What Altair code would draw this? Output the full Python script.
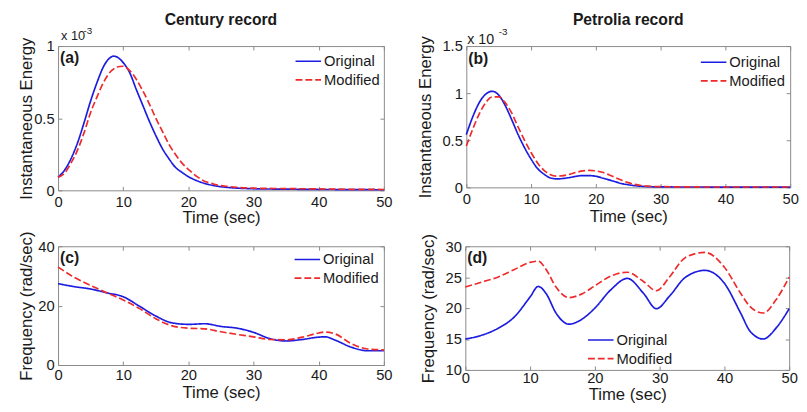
import altair as alt
import pandas as pd

SERIES = ["Original", "Modified"]
COLORS = ["#1c1ce0", "#ee2a2a"]
DASHES = [[1, 0], [7, 3]]
FONT = "Liberation Sans"
FRAME = "#8a8a8a"
TXT = "#1a1a1a"
XTICKS = [0, 10, 20, 30, 40, 50]

# (a) Century record, instantaneous energy (units of 1e-3)
a_time = [0, 1, 2, 3, 4, 5, 6, 7, 8, 8.5, 9, 10, 11, 12, 13, 14, 15, 16, 17, 18, 19, 20,
          22, 24, 26, 28, 30, 35, 40, 45, 50]
a_orig = [0.09, 0.14, 0.22, 0.33, 0.47, 0.62, 0.75, 0.86, 0.92, 0.93, 0.925, 0.885, 0.815,
          0.70, 0.59, 0.48, 0.38, 0.29, 0.22, 0.16, 0.125, 0.095, 0.055, 0.032, 0.02, 0.014,
          0.011, 0.008, 0.006, 0.005, 0.004]
a_mod = [0.09, 0.12, 0.19, 0.28, 0.40, 0.54, 0.65, 0.75, 0.82, 0.84, 0.855, 0.86, 0.83,
         0.77, 0.69, 0.60, 0.50, 0.41, 0.32, 0.25, 0.19, 0.145, 0.075, 0.042, 0.027, 0.019,
         0.015, 0.012, 0.01, 0.007, 0.006]

# (b) Petrolia record, instantaneous energy (units of 1e-3)
b_time = list(range(0, 29)) + [30, 35, 40, 45, 50]
b_orig = [0.56, 0.75, 0.90, 0.99, 1.02, 0.98, 0.87, 0.72, 0.56, 0.42, 0.30, 0.20, 0.14, 0.10,
          0.09, 0.095, 0.105, 0.118, 0.125, 0.125, 0.118, 0.10, 0.08, 0.06, 0.04, 0.028,
          0.018, 0.012, 0.008, 0.005, 0.004, 0.003, 0.003, 0.003]
b_mod = [0.44, 0.62, 0.78, 0.90, 0.96, 0.96, 0.90, 0.79, 0.64, 0.50, 0.37, 0.26, 0.18, 0.135,
         0.12, 0.125, 0.14, 0.16, 0.175, 0.18, 0.175, 0.16, 0.135, 0.105, 0.075, 0.05,
         0.032, 0.02, 0.013, 0.008, 0.005, 0.004, 0.004, 0.004]

# (c) Century record, frequency (rad/sec)
c_time = [0, 2.5, 5, 7.5, 10, 12.5, 15, 17.5, 20, 22.5, 25, 27.5, 30, 32.5, 35, 37.5, 40, 41,
          42.5, 45, 47.5, 50]
c_orig = [27.4, 26.4, 25.6, 24.3, 23.0, 19.8, 16.5, 14.2, 13.7, 13.9, 13.0, 12.4, 11.0, 8.9,
          8.1, 8.6, 9.4, 9.5, 8.4, 6.0, 4.8, 4.8]
c_mod = [33.0, 29.5, 26.8, 24.3, 21.9, 19.0, 15.6, 13.2, 12.4, 12.2, 11.2, 10.3, 9.5, 8.6,
         8.5, 9.4, 10.8, 11.1, 10.5, 7.2, 5.4, 5.1]

# (d) Petrolia record, frequency (rad/sec)
d_time = [0, 2.5, 5, 7.5, 10, 11.25, 12.5, 14, 16, 18, 20, 22.5, 25, 27.5, 29.5, 31.5, 34,
          37, 40, 42.5, 44, 46, 48, 50]
d_orig = [15.0, 15.6, 16.7, 18.5, 21.8, 23.5, 22.3, 19.2, 17.4, 18.2, 20.0, 23.0, 24.8, 22.4,
          19.9, 21.9, 25.0, 26.1, 24.0, 19.2, 16.2, 15.0, 16.8, 19.9]
d_mod = [23.4, 24.2, 25.0, 26.2, 27.4, 27.6, 26.2, 23.4, 21.7, 22.3, 23.6, 25.2, 25.8, 24.3,
         22.8, 25.0, 28.2, 29.0, 26.6, 22.4, 20.2, 19.2, 21.4, 25.0]

PANEL_LABELS = ["(a)", "(b)", "(c)", "(d)"]
TITLES = ["Century record", "Petrolia record"]
SCI_BASE = "x 10"
SCI_EXP = "-3"


def make_df(time, orig, mod):
    n = len(time)
    return pd.DataFrame({
        "t": list(time) * 2,
        "v": list(orig) + list(mod),
        "s": [SERIES[0]] * n + [SERIES[1]] * n,
    })


def panel(df, w, h, ydom, yticks, ytitle, ytitle_x, xtitle_y, xlab_pad, label, label_y, leg,
          title=None, sci=None):
    xs = alt.Scale(domain=[0, 50], nice=False, zero=False)
    ys = alt.Scale(domain=ydom, nice=False, zero=False)
    common = dict(grid=False, domain=False, ticks=True, tickSize=4, offset=-4,
                  tickColor=FRAME, tickWidth=1, labelFont=FONT, labelFontSize=15,
                  labelColor=TXT, titleFont=FONT, titleFontSize=17, titleColor=TXT,
                  titleFontWeight="normal")
    xax = alt.Axis(values=XTICKS, title="Time (sec)", labelPadding=xlab_pad, labelFlush=False,
                   labelOverlap=False, format="d", titleY=xtitle_y, titleX=w / 2, **common)
    yax = alt.Axis(values=yticks, title=ytitle, labelPadding=4, labelFlush=False,
                   labelOverlap=False, format="~r", titleX=ytitle_x, titleY=h / 2, **common)
    legend = alt.Legend(orient="none", legendX=leg[0], legendY=leg[1], title=None,
                        symbolType="stroke", symbolSize=676, symbolStrokeWidth=1.7,
                        labelFont=FONT, labelFontSize=15, labelColor=TXT, labelOffset=2,
                        rowPadding=0, padding=0, clipHeight=19)
    color = alt.Color("s:N", scale=alt.Scale(domain=SERIES, range=COLORS), legend=legend)
    dash = alt.StrokeDash("s:N", scale=alt.Scale(domain=SERIES, range=DASHES), legend=legend)
    lines = alt.Chart(df).mark_line(strokeWidth=1.7, interpolate="monotone").encode(
        x=alt.X("t:Q", scale=xs, axis=xax),
        y=alt.Y("v:Q", scale=ys, axis=yax),
        color=color,
        strokeDash=dash,
    )
    ax2 = dict(grid=False, domain=False, ticks=True, tickSize=4, offset=-4, tickColor=FRAME,
               labels=False, title=None)
    box = alt.Chart(df).mark_line(opacity=0).encode(
        x=alt.X("t:Q", scale=xs, axis=alt.Axis(orient="top", values=XTICKS, **ax2)),
        y=alt.Y("v:Q", scale=ys, axis=alt.Axis(orient="right", values=yticks, **ax2)),
    )
    lab = alt.Chart(pd.DataFrame({"txt": [label]})).mark_text(
        font=FONT, fontSize=16, fontWeight="bold", align="left", baseline="alphabetic",
        color=TXT).encode(text="txt:N", x=alt.value(2), y=alt.value(label_y))
    layers = [lines, box, lab]
    if sci is not None:
        base = alt.Chart(pd.DataFrame({"txt": [SCI_BASE]})).mark_text(
            font=FONT, fontSize=sci[0], align="left", baseline="alphabetic", color=TXT).encode(
            text="txt:N", x=alt.value(sci[1]), y=alt.value(sci[2]))
        exp = alt.Chart(pd.DataFrame({"txt": [SCI_EXP]})).mark_text(
            font=FONT, fontSize=10, align="left", baseline="alphabetic", color=TXT).encode(
            text="txt:N", x=alt.value(sci[3]), y=alt.value(sci[4]))
        layers += [base, exp]
    ch = alt.layer(*layers).resolve_axis(x="independent", y="independent").properties(
        width=w, height=h)
    if title is not None:
        ch = ch.properties(title=alt.TitleParams(title[0], font=FONT, fontSize=16,
                                                 fontWeight="bold", color=TXT,
                                                 anchor="middle", offset=title[1]))
    return ch


pa = panel(make_df(a_time, a_orig, a_mod), 332, 147, [0, 1], [0, 0.5, 1],
           "Instantaneous Energy", -27, 24, 4, PANEL_LABELS[0], 17, (241, 6),
           title=(TITLES[0], -2), sci=(13, 3, -6, 26, -12))
pb = panel(make_df(b_time, b_orig, b_mod), 330, 144, [0, 1.5], [0, 0.5, 1, 1.5],
           "Instantaneous Energy", -36, 26, 4, PANEL_LABELS[1], 18, (238, 7),
           title=(TITLES[1], -1.5), sci=(14.5, 1, -2.5, 33, -11.5))
pc = panel(make_df(c_time, c_orig, c_mod), 332, 121, [0, 40], [0, 20, 40],
           "Frequency (rad/sec)", -27, 24, 3, PANEL_LABELS[2], 17, (240, 4))
pd_ = panel(make_df(d_time, d_orig, d_mod), 330, 126, [10, 30], [10, 15, 20, 25, 30],
            "Frequency (rad/sec)", -32, 21, 1, PANEL_LABELS[3], 17, (124, 86))

top = alt.hconcat(pa, pb, spacing=24).resolve_scale(color="independent",
                                                      strokeDash="independent")
bottom = alt.hconcat(pc, pd_, spacing=27).resolve_scale(color="independent",
                                                          strokeDash="independent")
chart = alt.vconcat(top, bottom, spacing=3).resolve_scale(
    color="independent", strokeDash="independent").properties(
    padding={"left": 9, "top": 0, "right": 0, "bottom": 0}
).configure_view(stroke=FRAME, strokeWidth=1)

chart.save("out.html", embed_options={"renderer": "svg", "actions": False})
